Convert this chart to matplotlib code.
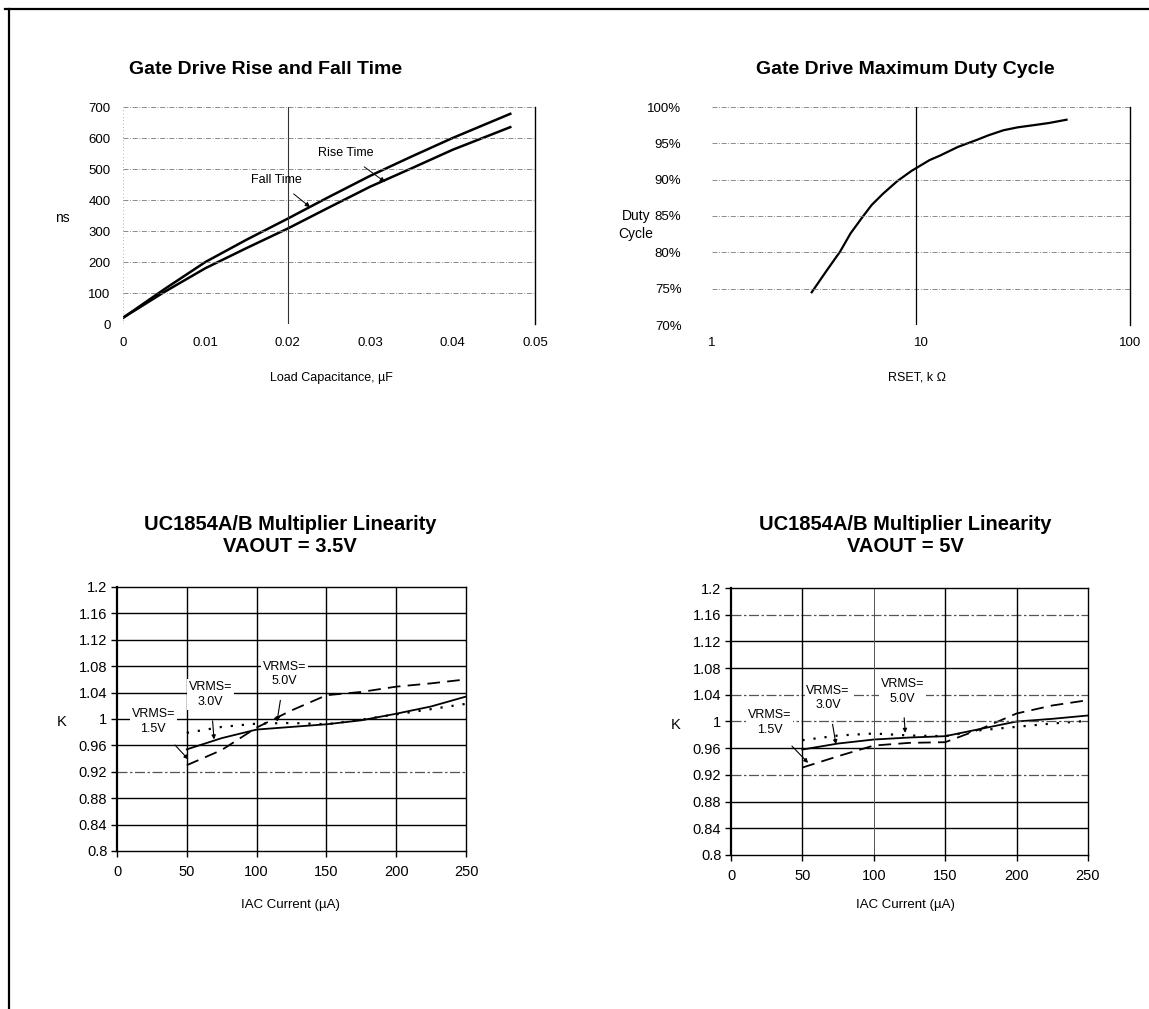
import matplotlib
matplotlib.use("Agg")
import matplotlib.pyplot as plt
from matplotlib.lines import Line2D

plt.rcParams["font.family"] = ["Liberation Sans", "DejaVu Sans"]

W, H = 1149, 1009

# ------------------------------------------------------------------ dados
cap_uF = [0, 0.005, 0.01, 0.015, 0.02, 0.025, 0.03, 0.035, 0.04, 0.047]
fall_ns = [20, 112, 200, 272, 340, 410, 478, 540, 600, 678]
rise_ns = [20, 103, 180, 245, 308, 376, 443, 502, 562, 635]
cap_ticks = [0, 0.01, 0.02, 0.03, 0.04, 0.05]
ns_ticks = [0, 100, 200, 300, 400, 500, 600, 700]

rset_k = [3.0, 3.5, 4.1, 4.6, 5.2, 5.8, 6.6, 7.7, 9.0, 11, 12.3, 15, 18.6,
          21, 24.8, 29, 34.6, 41, 49.7]
duty_pct = [74.5, 77.3, 80.1, 82.6, 84.7, 86.5, 88.1, 89.8, 91.2, 92.7, 93.3,
            94.5, 95.5, 96.1, 96.8, 97.2, 97.5, 97.8, 98.25]
duty_ticks = [70, 75, 80, 85, 90, 95, 100]

iac_uA = [50, 75, 100, 125, 150, 175, 200, 225, 250]
k35_v15 = [0.930, 0.953, 0.987, 1.013, 1.036, 1.041, 1.049, 1.054, 1.060]
k35_v30 = [0.954, 0.971, 0.984, 0.988, 0.992, 0.998, 1.008, 1.019, 1.034]
k35_v50 = [0.979, 0.988, 0.993, 0.994, 0.992, 0.999, 1.007, 1.015, 1.023]
k5_v15 = [0.931, 0.948, 0.964, 0.968, 0.969, 0.989, 1.012, 1.024, 1.032]
k5_v30 = [0.958, 0.967, 0.973, 0.976, 0.978, 0.989, 1.000, 1.004, 1.009]
k5_v50 = [0.972, 0.979, 0.982, 0.979, 0.978, 0.987, 0.992, 0.997, 1.001]
iac_ticks = [0, 50, 100, 150, 200, 250]
k_ticks = [0.8, 0.84, 0.88, 0.92, 0.96, 1.0, 1.04, 1.08, 1.12, 1.16, 1.2]
k_ticklabels = ["0.8", "0.84", "0.88", "0.92", "0.96", "1", "1.04", "1.08", "1.12", "1.16", "1.2"]


def eixo(l, r, t, b):
    """Cria eixo a partir de coordenadas em pixels da imagem."""
    return fig.add_axes([l / W, 1 - b / H, (r - l) / W, (b - t) / H])


def texto(x, y, s, **kw):
    fig.text(x / W, 1 - y / H, s, ha="center", va="center", **kw)


fig = plt.figure(figsize=(W / 100, H / 100), dpi=100)

# moldura da página
fig.add_artist(Line2D([5 / W, 1], [1 - 9 / H, 1 - 9 / H], color="black", lw=1.6))
fig.add_artist(Line2D([9 / W, 9 / W], [1 - 9 / H, 0], color="black", lw=1.6))

grade = dict(color="#777777", lw=0.6, linestyle=(0, (6, 2, 1, 2)))

# ------------------------------------------------- 1. tempo de subida/descida
ax = eixo(123, 535, 107, 324)
ax.plot(cap_uF, fall_ns, color="black", lw=1.8)
ax.plot(cap_uF, rise_ns, color="black", lw=1.8)
ax.set_xlim(0, 0.05)
ax.set_ylim(0, 700)
ax.set_xticks(cap_ticks, ["0", "0.01", "0.02", "0.03", "0.04", "0.05"])
ax.set_yticks(ns_ticks)
ax.tick_params(length=0, labelsize=9.5, pad=9)
for v in ns_ticks:
    ax.axhline(v, **grade)
ax.axvline(0, color="#999999", lw=0.6, linestyle=(0, (1, 3)))
ax.axvline(0.02, color="#333333", lw=0.8)
for s in ["top", "left", "bottom"]:
    ax.spines[s].set_visible(False)
ax.spines["right"].set_linewidth(1.0)
ax.annotate("Rise Time", xy=(0.0318, 458), xytext=(0.027, 551), fontsize=9,
            ha="center", va="center", arrowprops=dict(arrowstyle="-|>", lw=0.7,
            color="black", shrinkA=6, shrinkB=0, mutation_scale=7))
ax.annotate("Fall Time", xy=(0.0227, 377), xytext=(0.0186, 465), fontsize=9,
            ha="center", va="center", arrowprops=dict(arrowstyle="-|>", lw=0.7,
            color="black", shrinkA=6, shrinkB=0, mutation_scale=7))
texto(266, 70, "Gate Drive Rise and Fall Time", fontsize=14, fontweight="bold")
texto(62, 218, "ns", fontsize=10)
texto(331, 378, "Load Capacitance, µF", fontsize=9)

# ------------------------------------------------- 2. ciclo de trabalho máximo
ax = eixo(712, 1130, 107, 325)
ax.plot(rset_k, duty_pct, color="black", lw=1.6)
ax.set_xscale("log")
ax.set_xlim(1, 100)
ax.set_ylim(70, 100)
ax.set_xticks([1, 10, 100], ["1", "10", "100"])
ax.minorticks_off()
ax.set_yticks(duty_ticks, [f"{v}%" for v in duty_ticks])
ax.tick_params(length=0, labelsize=9.5, pad=9)
ax.tick_params(axis="y", pad=22)
for v in duty_ticks:
    ax.axhline(v, **grade)
ax.axvline(9.5, color="black", lw=0.9)
for s in ["top", "left", "bottom"]:
    ax.spines[s].set_visible(False)
ax.spines["right"].set_linewidth(1.0)
texto(905, 70, "Gate Drive Maximum Duty Cycle", fontsize=14, fontweight="bold")
texto(636, 225, "Duty\nCycle", fontsize=10, linespacing=1.45)
texto(917, 378, "RSET, k Ω", fontsize=9)


# ------------------------------------------------- 3 e 4. linearidade do multiplicador
def linearidade(ax, v15, v30, v50, rotulos, tracejadas, vert_finas):
    ax.plot(iac_uA, v15, color="black", lw=1.3, linestyle=(0, (7, 4)))
    ax.plot(iac_uA, v30, color="black", lw=1.3)
    ax.plot(iac_uA, v50, color="black", lw=1.6, linestyle=(0, (1, 4)))
    ax.set_xlim(0, 250)
    ax.set_ylim(0.8, 1.2)
    ax.set_xticks(iac_ticks)
    ax.set_yticks(k_ticks, k_ticklabels)
    ax.tick_params(length=4, width=1, labelsize=10.5, pad=3)
    ax.tick_params(axis="x", pad=6)
    for v in k_ticks[1:-1]:
        if any(abs(v - t) < 1e-6 for t in tracejadas):
            ax.axhline(v, color="#555555", lw=0.9, linestyle=(0, (8, 2, 2, 2)))
        else:
            ax.axhline(v, color="black", lw=1.0)
    for v in iac_ticks[1:-1]:
        if v in vert_finas:
            ax.axvline(v, color="#555555", lw=0.7)
        else:
            ax.axvline(v, color="black", lw=1.0)
    for s in ax.spines.values():
        s.set_linewidth(1.0)
    ax.spines["left"].set_linewidth(1.6)
    for (tx, ty, ax_, ay_, nome) in rotulos:
        ax.annotate("VRMS=\n" + nome, xy=(ax_, ay_), xytext=(tx, ty), fontsize=9,
                    ha="center", va="center", linespacing=1.3,
                    bbox=dict(boxstyle="square,pad=0.15", fc="white", ec="none"),
                    arrowprops=dict(arrowstyle="-|>", lw=0.8, color="black",
                                    shrinkA=8, shrinkB=0, mutation_scale=6))


ax = eixo(117, 466, 587, 851)
linearidade(ax, k35_v15, k35_v30, k35_v50,
            [(26, 0.996, 51, 0.939, "1.5V"),
             (67, 1.037, 69.5, 0.969, "3.0V"),
             (120, 1.068, 114.6, 0.996, "5.0V")],
            [0.92], [])
texto(290, 524, "UC1854A/B Multiplier Linearity", fontsize=14.5, fontweight="bold")
texto(290, 546, "VAOUT = 3.5V", fontsize=14.5, fontweight="bold")
texto(62, 722, "K", fontsize=10.5)
texto(290, 905, "IAC Current (µA)", fontsize=9.5)

ax = eixo(731, 1088, 588, 855)
linearidade(ax, k5_v15, k5_v30, k5_v50,
            [(27, 0.998, 54, 0.938, "1.5V"),
             (68, 1.035, 73.5, 0.966, "3.0V"),
             (120, 1.045, 122, 0.983, "5.0V")],
            [0.92, 1.0, 1.04, 1.16], [100])
texto(905, 524, "UC1854A/B Multiplier Linearity", fontsize=14.5, fontweight="bold")
texto(905, 546, "VAOUT = 5V", fontsize=14.5, fontweight="bold")
texto(676, 725, "K", fontsize=10.5)
texto(905, 905, "IAC Current (µA)", fontsize=9.5)

fig.savefig("out.png", dpi=100)
